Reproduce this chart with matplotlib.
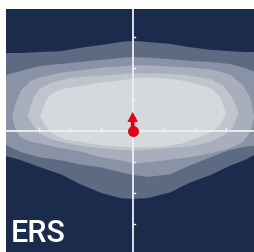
import numpy as np
import matplotlib
matplotlib.use('Agg')
import matplotlib.pyplot as plt

# density bands (outer -> inner), x with upper / lower edge
x1 = [-4.2, -3.6, -3.0, -2.3, -1.7, -1.0, -0.4, 0.0, 0.5, 1.2, 1.8, 2.5, 3.1, 3.6, 4.0]
top1 = [2.49, 2.49, 2.52, 2.55, 2.65, 2.75, 2.84, 2.88, 2.84, 2.78, 2.68, 2.59, 2.55, 2.52, 2.52]
bot1 = [-0.78, -0.94, -1.16, -1.40, -1.71, -2.00, -2.16, -2.19, -2.16, -1.98, -1.68, -1.42, -1.13, -0.94, -0.72]

x2 = [-4.2, -3.6, -3.0, -2.3, -1.7, -1.0, -0.4, 0.0, 0.5, 1.2, 1.8, 2.5, 3.1, 3.6, 4.0]
top2 = [1.75, 1.91, 2.07, 2.14, 2.20, 2.27, 2.33, 2.36, 2.34, 2.29, 2.24, 2.20, 2.14, 2.01, 1.85]
bot2 = [-0.39, -0.68, -0.85, -0.95, -1.08, -1.18, -1.33, -1.42, -1.48, -1.40, -1.13, -0.85, -0.62, -0.52, -0.48]

x3 = [-3.88, -3.75, -3.6, -3.3, -3.0, -2.3, -1.7, -1.0, -0.4, 0.0, 0.5, 1.2, 1.8, 2.5, 3.1, 3.5, 3.75, 3.88]
top3 = [0.47, 0.95, 1.30, 1.60, 1.72, 1.88, 1.95, 2.04, 2.07, 2.11, 2.11, 2.07, 2.04, 1.98, 1.82, 1.49, 1.08, 0.45]
bot3 = [0.47, 0.00, -0.20, -0.33, -0.39, -0.55, -0.65, -0.84, -0.94, -1.04, -1.00, -0.91, -0.84, -0.71, -0.55, -0.36, -0.04, 0.45]

x4 = [-3.38, -3.2, -3.0, -2.6, -2.1, -1.5, -1.0, -0.5, 0.0, 0.5, 1.0, 1.5, 2.0, 2.5, 2.9, 3.2, 3.38]
top4 = [0.50, 1.05, 1.37, 1.56, 1.69, 1.75, 1.78, 1.82, 1.85, 1.85, 1.85, 1.82, 1.75, 1.66, 1.43, 1.05, 0.58]
bot4 = [0.50, 0.15, -0.07, -0.27, -0.39, -0.49, -0.55, -0.59, -0.62, -0.59, -0.55, -0.52, -0.46, -0.33, -0.14, 0.12, 0.58]

x5 = [-2.98, -2.8, -2.6, -2.2, -1.6, -1.0, -0.5, 0.0, 0.5, 1.0, 1.6, 2.1, 2.5, 2.8, 2.98]
top5 = [0.46, 0.98, 1.21, 1.37, 1.46, 1.56, 1.62, 1.69, 1.72, 1.69, 1.62, 1.50, 1.37, 1.08, 0.58]
bot5 = [0.46, 0.15, -0.07, -0.27, -0.36, -0.46, -0.49, -0.52, -0.52, -0.49, -0.39, -0.20, -0.04, 0.21, 0.58]

bands = [(x1, top1, bot1), (x2, top2, bot2), (x3, top3, bot3), (x4, top4, bot4), (x5, top5, bot5)]
band_colors = ['#5e6a82', '#8a93a5', '#a8aebb', '#c0c4cc', '#d5d8dd']

ticks = [-3, -2, -1, 1, 2, 3]
point = (0.0, 0.0)
shift = 0.6
label = "ERS"

fig = plt.figure(figsize=(2.55, 2.52), dpi=100)
ax = fig.add_axes([6 / 255, 0, 249 / 255, 243 / 252])
ax.set_facecolor('#1b2b4b')

for (bx, bt, bb), col in zip(bands, band_colors):
    ax.fill_between(bx, bb, bt, color=col, lw=0)

# crosshair with small ticks
line_col = '#eef0f3'
ax.axvline(0, color=line_col, lw=1.3, zorder=3)
ax.axhline(0, color=line_col, lw=1.3, zorder=3)
for t in ticks:
    ax.plot([0, 0.09], [t, t], color=line_col, lw=1, zorder=3)
    ax.plot([t, t], [0, 0.09], color=line_col, lw=1, zorder=3)

ax.arrow(point[0], point[1], 0, shift, width=0.12, head_width=0.34, head_length=0.32,
         length_includes_head=True, color='#e2001a', lw=0, zorder=4)
ax.scatter([point[0]], [point[1]], s=62, color='#e2001a', zorder=5, lw=0)

ax.text(-3.9, -3.56, label, color='white', fontsize=22, family='Roboto',
        fontweight='medium', zorder=6)

ax.set_xlim(-4.06, 3.92)
ax.set_ylim(-3.89, 3.9)
ax.set_xticks([])
ax.set_yticks([])
for s in ax.spines.values():
    s.set_visible(False)

fig.savefig('out.png', dpi=100, facecolor='white')
